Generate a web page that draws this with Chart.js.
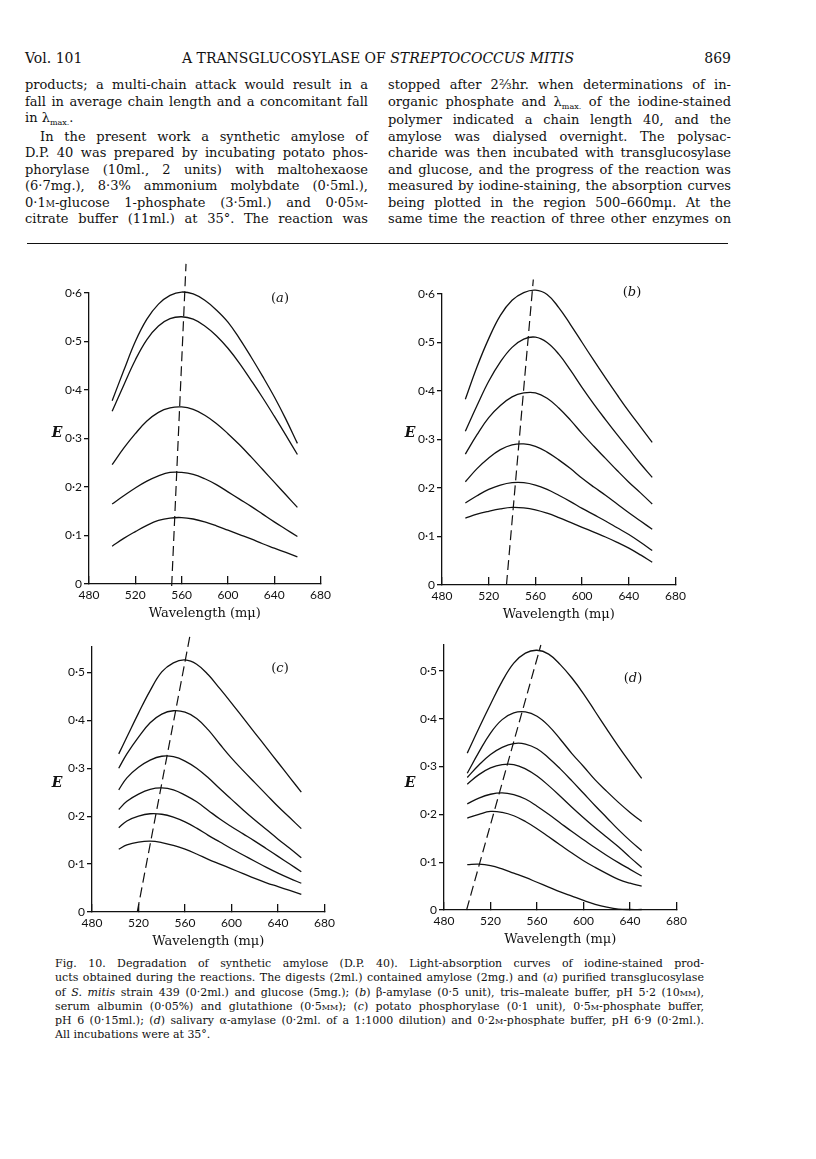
<!DOCTYPE html>
<html>
<head>
<meta charset="utf-8">
<script src="https://cdn.jsdelivr.net/npm/chart.js@4.4.0/dist/chart.umd.min.js"></script>
<style>
  body { margin: 0; background: #fff; }
  #page { position: relative; width: 816px; height: 1159px; overflow: hidden;
          font-family: "DejaVu Serif", serif; color: #111; }
  .head { position: absolute; top: 50px; font-size: 14px; line-height: 16px; white-space: nowrap; }
  .col { position: absolute; top: 77px; width: 343px; font-size: 13px; line-height: 16.5px; }
  .ln { white-space: nowrap; text-align: justify; text-align-last: justify; }
  .ln.last { text-align-last: left; }
  .sc { font-variant: small-caps; }
  .sub { font-size: 8px; position: relative; top: 3px; }
  #rule { position: absolute; left: 27px; top: 243px; width: 701px; height: 0; border-top: 1.6px solid #111; }
  #caption { position: absolute; left: 55px; top: 957px; width: 649px; font-size: 11px; line-height: 14.3px; }
  canvas { position: absolute; }
  .lbl { position: absolute; transform: translate(-50%, -50%); white-space: nowrap; }
  .E { font-weight: bold; font-style: italic; font-size: 14px; }
  .tag { font-size: 13px; }
</style>
</head>
<body>
<div id="page">
  <div class="head" style="left:25px">Vol. 101</div>
  <div class="head" style="left:378px;transform:translateX(-50%)">A TRANSGLUCOSYLASE OF <i>STREPTOCOCCUS MITIS</i></div>
  <div class="head" style="right:85px">869</div>

  <div class="col" style="left:25px">
    <div class="ln">products; a multi-chain attack would result in a</div>
    <div class="ln">fall in average chain length and a concomitant fall</div>
    <div class="ln last">in λ<span class="sub">max.</span>.</div>
    <div class="ln" style="text-indent:15px">In the present work a synthetic amylose of</div>
    <div class="ln">D.P. 40 was prepared by incubating potato phos-</div>
    <div class="ln">phorylase (10ml., 2 units) with maltohexaose</div>
    <div class="ln">(6·7mg.), 8·3% ammonium molybdate (0·5ml.),</div>
    <div class="ln">0·1<span class="sc">m</span>-glucose 1-phosphate (3·5ml.) and 0·05<span class="sc">m</span>-</div>
    <div class="ln">citrate buffer (11ml.) at 35°. The reaction was</div>
  </div>
  <div class="col" style="left:388px">
    <div class="ln">stopped after 2⅔hr. when determinations of in-</div>
    <div class="ln">organic phosphate and λ<span class="sub">max.</span> of the iodine-stained</div>
    <div class="ln">polymer indicated a chain length 40, and the</div>
    <div class="ln">amylose was dialysed overnight. The polysac-</div>
    <div class="ln">charide was then incubated with transglucosylase</div>
    <div class="ln">and glucose, and the progress of the reaction was</div>
    <div class="ln">measured by iodine-staining, the absorption curves</div>
    <div class="ln">being plotted in the region 500–660mμ. At the</div>
    <div class="ln">same time the reaction of three other enzymes on</div>
  </div>
  <div id="rule"></div>

  <canvas id="chartA"></canvas>
  <canvas id="chartB"></canvas>
  <canvas id="chartC"></canvas>
  <canvas id="chartD"></canvas>

  <div class="lbl E" style="left:57px;top:432px">E</div>
  <div class="lbl E" style="left:410px;top:432px">E</div>
  <div class="lbl E" style="left:57px;top:782px">E</div>
  <div class="lbl E" style="left:410px;top:782px">E</div>
  <div class="lbl tag" style="left:280px;top:297px">(<i>a</i>)</div>
  <div class="lbl tag" style="left:632px;top:291px">(<i>b</i>)</div>
  <div class="lbl tag" style="left:280px;top:667px">(<i>c</i>)</div>
  <div class="lbl tag" style="left:633px;top:677px">(<i>d</i>)</div>

  <div id="caption">
    <div class="ln">Fig. 10. Degradation of synthetic amylose (D.P. 40). Light-absorption curves of iodine-stained prod-</div>
    <div class="ln">ucts obtained during the reactions. The digests (2ml.) contained amylose (2mg.) and (<i>a</i>) purified transglucosylase</div>
    <div class="ln">of <i>S. mitis</i> strain 439 (0·2ml.) and glucose (5mg.); (<i>b</i>) β-amylase (0·5 unit), tris–maleate buffer, pH 5·2 (10<span class="sc">mm</span>),</div>
    <div class="ln">serum albumin (0·05%) and glutathione (0·5<span class="sc">mm</span>); (<i>c</i>) potato phosphorylase (0·1 unit), 0·5<span class="sc">m</span>-phosphate buffer,</div>
    <div class="ln">pH 6 (0·15ml.); (<i>d</i>) salivary α-amylase (0·2ml. of a 1:1000 dilution) and 0·2<span class="sc">m</span>-phosphate buffer, pH 6·9 (0·2ml.).</div>
    <div class="ln last">All incubations were at 35°.</div>
  </div>
</div>

<script>
/* ================= DATA ================= */

const waveAB = [500, 510, 520, 530, 540, 550, 560, 570, 580, 590, 600, 610, 620, 630, 640, 650, 660];
const waveC = [503, 510, 520, 530, 540, 550, 560, 570, 580, 590, 600, 610, 620, 630, 640, 650, 660];
const waveD = [500, 510, 520, 530, 540, 550, 560, 570, 580, 590, 600, 610, 620, 630, 640, 650];
const xTicks = [480, 520, 560, 600, 640, 680];

// (a) transglucosylase
const curvesA = [
  [0.378, 0.44, 0.50, 0.546, 0.577, 0.595, 0.602, 0.598, 0.585, 0.565, 0.54, 0.506, 0.468, 0.428, 0.386, 0.34, 0.29],
  [0.356, 0.41, 0.462, 0.504, 0.532, 0.547, 0.551, 0.546, 0.532, 0.512, 0.486, 0.455, 0.42, 0.384, 0.346, 0.307, 0.267],
  [0.246, 0.28, 0.31, 0.336, 0.354, 0.363, 0.365, 0.36, 0.348, 0.331, 0.31, 0.287, 0.262, 0.236, 0.21, 0.184, 0.158],
  [0.165, 0.182, 0.198, 0.212, 0.223, 0.23, 0.23, 0.226, 0.217, 0.205, 0.19, 0.175, 0.16, 0.144, 0.128, 0.113, 0.098],
  [0.078, 0.094, 0.108, 0.121, 0.131, 0.136, 0.137, 0.134, 0.128, 0.12, 0.111, 0.102, 0.093, 0.083, 0.074, 0.065, 0.056]
];
const peakA_x = [551.4, 563.8];
const peakA_y = [-0.004, 0.66];

// (b) beta-amylase
const curvesB = [
  [0.383, 0.45, 0.508, 0.556, 0.587, 0.603, 0.608, 0.599, 0.572, 0.537, 0.5, 0.463, 0.427, 0.392, 0.358, 0.326, 0.294],
  [0.317, 0.37, 0.42, 0.46, 0.49, 0.507, 0.511, 0.5, 0.476, 0.443, 0.407, 0.373, 0.341, 0.31, 0.28, 0.25, 0.222],
  [0.27, 0.31, 0.345, 0.37, 0.388, 0.396, 0.396, 0.385, 0.365, 0.34, 0.312, 0.286, 0.261, 0.236, 0.212, 0.19, 0.167],
  [0.213, 0.24, 0.262, 0.279, 0.289, 0.291, 0.286, 0.274, 0.258, 0.24, 0.22, 0.202, 0.185, 0.167, 0.149, 0.132, 0.115],
  [0.169, 0.184, 0.197, 0.206, 0.211, 0.211, 0.206, 0.197, 0.185, 0.172, 0.158, 0.145, 0.132, 0.118, 0.104, 0.088, 0.071],
  [0.138, 0.146, 0.152, 0.157, 0.16, 0.159, 0.155, 0.148, 0.139, 0.129, 0.119, 0.109, 0.099, 0.088, 0.076, 0.062, 0.047]
];
const peakB_x = [535.2, 558.2];
const peakB_y = [0, 0.63];

// (c) potato phosphorylase
const curvesC = [
  [0.33, 0.365, 0.415, 0.462, 0.501, 0.52, 0.526, 0.517, 0.495, 0.466, 0.436, 0.405, 0.374, 0.343, 0.312, 0.281, 0.25],
  [0.30, 0.33, 0.365, 0.395, 0.413, 0.42, 0.417, 0.404, 0.38, 0.35, 0.321, 0.295, 0.27, 0.245, 0.22, 0.197, 0.174],
  [0.255, 0.28, 0.302, 0.317, 0.325, 0.324, 0.315, 0.3, 0.28, 0.257, 0.235, 0.213, 0.192, 0.172, 0.152, 0.133, 0.113],
  [0.214, 0.231, 0.246, 0.256, 0.259, 0.255, 0.244, 0.23, 0.212, 0.194, 0.178, 0.163, 0.148, 0.132, 0.116, 0.1, 0.084],
  [0.176, 0.19, 0.2, 0.205, 0.204, 0.198, 0.188, 0.175, 0.16, 0.146, 0.132, 0.119, 0.106, 0.093, 0.081, 0.07, 0.06],
  [0.131, 0.14, 0.146, 0.148, 0.145, 0.139, 0.131, 0.121, 0.11, 0.1, 0.09, 0.08, 0.07, 0.061, 0.053, 0.045, 0.037]
];
const peakC_x = [518.9, 564.2];
const peakC_y = [0, 0.576];

// (d) salivary alpha-amylase
const curvesD = [
  [0.328, 0.38, 0.43, 0.478, 0.516, 0.537, 0.543, 0.535, 0.513, 0.485, 0.452, 0.415, 0.378, 0.342, 0.308, 0.275],
  [0.286, 0.33, 0.37, 0.398, 0.412, 0.414, 0.405, 0.385, 0.357, 0.327, 0.3, 0.272, 0.248, 0.225, 0.204, 0.185],
  [0.277, 0.303, 0.325, 0.34, 0.348, 0.347, 0.337, 0.318, 0.295, 0.27, 0.244, 0.218, 0.193, 0.168, 0.145, 0.124],
  [0.263, 0.283, 0.297, 0.304, 0.304, 0.295, 0.28, 0.26, 0.238, 0.215, 0.193, 0.172, 0.152, 0.132, 0.11, 0.089],
  [0.222, 0.234, 0.242, 0.245, 0.241, 0.232, 0.217, 0.2, 0.182, 0.164, 0.147, 0.13, 0.114, 0.099, 0.085, 0.071],
  [0.192, 0.2, 0.206, 0.204, 0.197, 0.185, 0.17, 0.153, 0.136, 0.119, 0.103, 0.089, 0.076, 0.064, 0.056, 0.05],
  [0.095, 0.096, 0.093, 0.086, 0.077, 0.068, 0.058, 0.048, 0.038, 0.029, 0.02, 0.012, 0.006, 0.002, 0.001, 0.001]
];
const peakD_x = [499.4, 563.3];
const peakD_y = [0, 0.554];

/* ================= TEXT FIT ================= */

document.querySelectorAll(".ln").forEach(el => {
  let ls = 0;
  while (el.scrollWidth > el.clientWidth + 0.5 && ls > -1.5) {
    ls -= 0.05;
    el.style.letterSpacing = ls + "px";
  }
});

/* ================= CHARTS ================= */

const INK = "#111";

function buildDatasets(wave, curves, peakX, peakY) {
  const sets = curves.map(c => ({
    data: c.map((v, i) => ({ x: wave[i], y: v })),
    borderColor: INK,
    borderWidth: 1.3,
    pointRadius: 0,
    tension: 0.4,
    fill: false,
    clip: false
  }));
  sets.push({
    data: peakX.map((x, i) => ({ x: x, y: peakY[i] })),
    borderColor: INK,
    borderWidth: 1.2,
    borderDash: [10, 5],
    pointRadius: 0,
    fill: false,
    clip: false
  });
  return sets;
}

function yLabel(v) {
  return v === 0 ? "0" : v.toFixed(1).replace(".", "·");
}

// area = where the plot box sits on the page
function drawPanel(id, area, yMax, datasets) {
  const canvas = document.getElementById(id);
  const padTop = 45, yWidth = 60, xHeight = 41, padRight = 15;
  canvas.width = area.right - area.left + yWidth + padRight;
  canvas.height = area.bottom - area.top + padTop + xHeight;
  canvas.style.left = (area.left - yWidth) + "px";
  canvas.style.top = (area.top - padTop) + "px";

  new Chart(canvas, {
    type: "line",
    data: { datasets: datasets },
    options: {
      responsive: false,
      animation: false,
      devicePixelRatio: 1,
      events: [],
      layout: { padding: { top: padTop, right: padRight, left: 0, bottom: 0 }, autoPadding: false },
      plugins: { legend: { display: false }, tooltip: { enabled: false } },
      scales: {
        x: {
          type: "linear",
          min: xTicks[0],
          max: xTicks[xTicks.length - 1],
          afterBuildTicks: s => { s.ticks = xTicks.map(v => ({ value: v })); },
          afterFit: s => { s.height = xHeight; },
          border: { color: INK, width: 1.3 },
          grid: { drawOnChartArea: false, tickLength: -8, color: INK, lineWidth: 1.3 },
          ticks: {
            padding: 12,
            color: INK,
            maxRotation: 0,
            autoSkip: false,
            font: { family: "Lato", size: 12 },
            callback: v => String(v)
          },
          title: {
            display: true,
            text: "Wavelength (mμ)",
            color: INK,
            font: { family: "DejaVu Serif", size: 13 },
            padding: { top: 0, bottom: 4 }
          }
        },
        y: {
          min: 0,
          max: yMax,
          afterFit: s => { s.width = yWidth; },
          border: { color: INK, width: 1.3 },
          grid: { drawOnChartArea: false, tickLength: 5, color: INK, lineWidth: 1.3 },
          ticks: {
            stepSize: 0.1,
            includeBounds: false,
            padding: 2,
            color: INK,
            font: { family: "Lato", size: 12 },
            callback: yLabel
          }
        }
      }
    }
  });
}

drawPanel("chartA", { left: 89, right: 328, top: 293, bottom: 584 }, 0.6,
  buildDatasets(waveAB, curvesA, peakA_x, peakA_y));
drawPanel("chartB", { left: 442, right: 683, top: 294, bottom: 585 }, 0.6,
  buildDatasets(waveAB, curvesB, peakB_x, peakB_y));
drawPanel("chartC", { left: 92, right: 332, top: 647, bottom: 912 }, 0.553,
  buildDatasets(waveC, curvesC, peakC_x, peakC_y));
drawPanel("chartD", { left: 444, right: 684, top: 645, bottom: 910 }, 0.554,
  buildDatasets(waveD, curvesD, peakD_x, peakD_y));
</script>
</body>
</html>
